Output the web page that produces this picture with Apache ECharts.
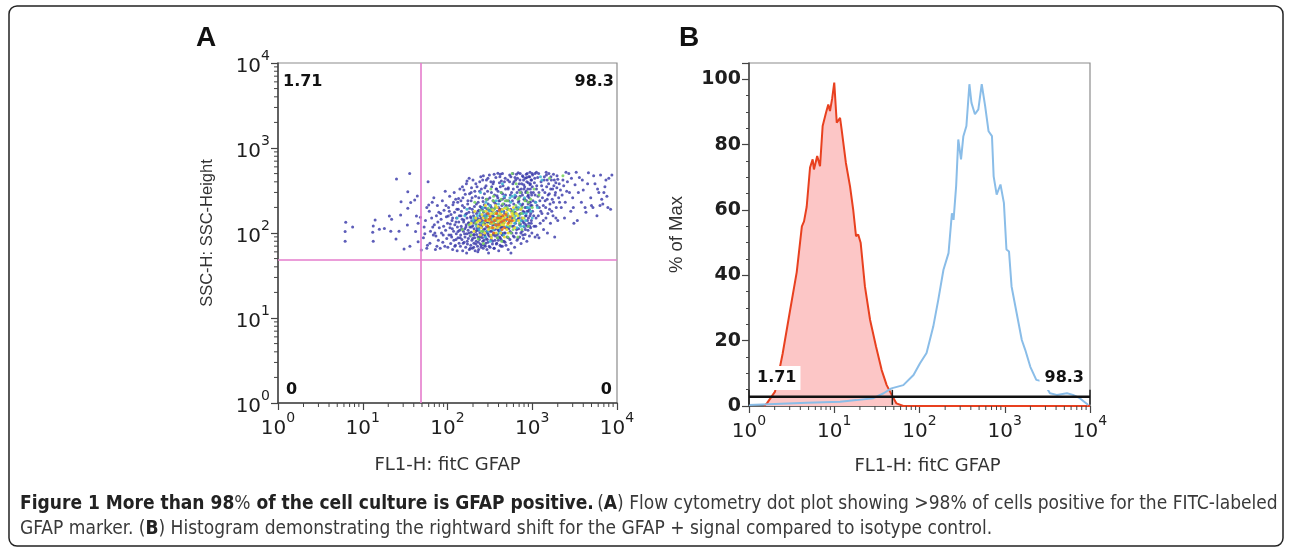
<!DOCTYPE html>
<html><head><meta charset="utf-8">
<script src="https://cdn.jsdelivr.net/npm/echarts@6/dist/echarts.min.js"></script>
<style>html,body{margin:0;padding:0;background:#fff}#c{width:1290px;height:549px}</style>
</head><body><div id="c"></div>
<script>
// ---------- tick definitions ----------
const decadeTicks = [1, 10, 100, 1000, 10000];
const minorTickValues = [2,3,4,5,6,7,8,9,20,30,40,50,60,70,80,90,200,300,400,500,600,700,800,900,2000,3000,4000,5000,6000,7000,8000,9000];
const pctTicks = [0, 20, 40, 60, 80, 100];

// ---------- panel A: quadrant gate and percentages ----------
const quadX = 48;
const quadY = 48;
const quadUL = '1.71', quadUR = '98.3', quadLL = '0', quadLR = '0';

// ---------- panel A: dot plot (FL1-H, SSC-H) by local density ----------
const dotsBlue = [
[6.3,134],[6.2,104],[6.2,80],[7.6,118],[13.3,121],[14,142],[13.1,102],[13.3,80],[15.7,111],[18,113],[20.6,158],[21.9,145],[21.4,105],[25,431],[28.3,233],[28,163],[26.8,105],[24.7,85],[30.7,65],[34,306],[35.8,502],[36.8,229],[36,70],[33.6,124],[34,195],[41,245],[44,272],[43,158],[45,130],[48,153],[59,400],[60,214],[42,104],[45,79],[49,63],[57,66],
[52,88],[55,140],[58,72],[61,180],[63,105],[66,230],[68,95],[70,125],[72,64],[74,160],[76,210],[78,82],[80,115],[53,118],[57,200],[62,76],[65,150],[69,260],[71,100],[75,70],[77,135],[79,175],[54,98],[67,118],[73,92],
[82,66],[84,145],[85,100],[87,240],[88,78],[90,120],[91,185],[93,70],[94,310],[95,108],[97,155],[98,86],[100,130],[101,68],[103,200],[104,95],[106,270],[107,115],[109,75],[110,165],[112,90],[113,140],[115,64],[116,215],[118,105],[119,82],[121,175],[122,125],[124,72],[125,250],[127,98],[128,150],[130,62],[131,118],[133,88],[134,190],[136,135],[137,76],[139,108],[140,330],[83,170],[89,95],[96,210],[102,158],[108,128],[114,112],[120,300],[126,84],[132,230],[138,160],
[142,70],[143,95],[145,120],[146,180],[148,84],[149,145],[151,62],[152,260],[154,105],[155,135],[157,78],[158,200],[160,112],[161,90],[163,165],[164,68],[166,125],[167,380],[169,98],[170,150],[172,74],[173,220],[175,108],[176,86],[178,132],[179,175],[181,64],[182,290],[184,118],[185,92],[187,155],[188,72],[190,240],[191,102],[193,138],[194,82],[196,190],[197,66],[199,122],[200,420],[202,95],[203,160],[205,76],[206,112],[208,205],[209,88],[211,140],[212,62],[214,270],[215,104],[217,128],[218,80],[220,170],[221,96],[223,350],[224,115],[226,70],[227,148],[229,90],[230,230],[232,108],[233,64],[235,185],[236,125],[238,84],[239,310],[241,100],[242,160],[244,74],[245,135],[247,460],[248,92],[250,200],[144,240],[156,320],[168,58],[180,440],[192,340],[204,68],[216,380],[228,60],[240,400],
[252,72],[254,118],[256,150],[258,88],[260,260],[262,104],[264,66],[266,175],[268,130],[270,82],[272,215],[274,96],[276,340],[278,112],[280,70],[282,160],[284,140],[286,86],[288,420],[290,120],[292,64],[294,190],[296,100],[298,250],[300,78],[303,135],[306,165],[309,92],[312,480],[315,115],[318,68],[321,210],[324,145],[327,84],[330,300],[333,105],[336,180],[339,74],[342,125],[345,380],[348,95],[351,155],[354,66],[357,230],[360,110],[363,82],[366,200],[369,140],[372,450],[375,98],[378,170],[381,76],[384,275],[387,120],[390,88],[393,505],[396,150],[399,108],[402,62],[405,240],[408,132],[411,90],[414,190],[417,72],[420,350],[423,115],[426,160],[429,84],[432,410],[435,100],[438,210],[441,136],[444,70],[447,290],[450,94],[265,470],[285,360],[305,58],[325,400],[355,490],[375,330],[395,310],[415,460],[445,500],
[455,120],[460,180],[465,80],[470,260],[475,140],[480,100],[485,330],[490,72],[495,210],[500,160],[507,115],[514,420],[521,88],[528,240],[535,135],[542,480],[549,104],[556,190],[563,76],[570,300],[577,150],[584,120],[591,380],[598,92],[605,220],[612,170],[619,68],[626,450],[633,130],[640,270],[647,100],[654,200],[661,82],[668,350],[675,145],[682,510],[689,112],[696,240],[703,165],[710,90],[717,420],[724,128],[731,190],[738,75],[745,300],[752,150],[759,105],[766,470],[773,220],[780,135],[787,86],[794,370],[801,175],[808,118],[815,250],[822,96],[829,440],[836,160],[843,125],[850,310],[857,200],[864,80],[871,500],[878,140],[885,270],[892,108],[899,390],[906,180],[913,130],[920,230],[927,92],[934,460],[941,160],[948,330],[955,115],[962,210],[969,420],[976,140],[983,280],[990,100],[997,500],[470,400],[520,330],[560,460],[610,400],[650,490],[700,320],[750,380],[800,330],[850,490],[900,280],[950,380],[560,58],[520,64],
[1010,180],[1030,300],[1050,120],[1070,440],[1090,230],[1110,150],[1130,360],[1150,95],[1170,270],[1190,500],[1210,200],[1240,130],[1270,400],[1300,170],[1330,320],[1360,110],[1390,460],[1420,240],[1450,150],[1480,350],[1510,100],[1540,280],[1570,500],[1600,190],[1640,130],[1680,420],[1720,250],[1760,160],[1800,360],[1840,90],[1880,300],[1920,200],[1960,470],[2000,140],[2050,260],[1080,90],[1200,88],[1350,210],[1500,420],[1650,330],[1900,390],[1120,520],[1460,520],[1780,490],[2080,380],
[2200,200],[2300,420],[2400,150],[2550,310],[2700,500],[2850,180],[3000,260],[3200,370],[3400,140],[3600,450],[3800,230],[4000,320],[4300,175],[4600,510],[4900,260],[5200,200],[5500,380],[5800,160],[6100,300],[6400,480],[6800,220],[7200,350],[7600,270],[8000,440],[8400,190],[2500,520],[3300,520],[4200,200],[5000,210],[6600,250],[7000,300],[3100,130]
];
const dotsBlueCore = [
[105,180],[110,95],[115,150],[118,230],[122,70],[126,135],[129,190],[133,104],[135,255],[141,88],[144,160],[147,112],[150,210],[153,76],[156,142],[159,98],[162,285],[165,118],[168,170],[171,80],[174,240],[177,130],[180,100],[183,195],[186,66],[189,150],[192,118],[195,260],[198,86],[201,175],[204,132],[207,96],[210,310],[213,150],[216,74],[219,220],[222,108],[225,140],[228,180],[231,78],[234,260],[237,115],[240,90],[243,205],[246,148],[249,68],[251,330],[253,124],[255,96],[257,190],[259,140],[261,80],[263,235],[267,110],[269,160],[271,72],[273,290],[275,128],[277,92],[279,200],[281,150],[283,76],[287,250],[289,104],[291,170],[293,135],[295,84],[297,310],[299,118],[302,220],[304,96],[307,145],[310,70],[313,185],[316,260],[319,105],[322,130],[326,90],[329,200],[332,350],[335,116],[338,160],[341,80],[344,240],[347,136],[350,98],[353,190],[356,66],[359,280],[362,125],[365,170],[368,92],[371,220],[374,150],[377,74],[380,330],[383,112],[386,180],[389,96],[392,260],[395,130],[398,82],[401,200],[404,150],[407,106],[410,390],[413,120],[416,240],[419,88],[422,175],[425,140],[428,70],[431,300],[434,118],[437,190],[440,96],[443,250],[446,155],[449,80],[452,360],[458,130],[463,220],[468,100],[473,170],[478,78],[483,280],[488,140],[493,115],[498,240],[503,90],[509,190],[515,150],[522,340],[530,112],[537,210],[545,84],[552,280],[560,135],[568,180],[575,100],[583,240],[590,160],[598,330],[606,120],[614,90],[622,260],[630,175],[638,420],[646,140],[654,110],[662,300],[670,190],[678,86],[686,230],[694,150],[702,380],[710,125],[718,270],[726,170],[734,100],[742,330],[750,210],[758,140],[766,280],[774,95],[782,180],[790,420],[798,250],[806,130],[814,350],[822,200],[830,110],[838,300],[846,160],[854,240],[862,400],[870,180],[878,120],[886,330],[894,220],[902,150],[910,460],[918,260],[926,190],[934,120],[942,370],[950,230],[958,170],[966,300],[974,130],[982,420],[990,210],[1000,350],[1020,240],[1040,160],[1060,390],[1080,280],[1100,120],[1120,330],[1140,210],[1160,450],[1180,160],[1200,300],[1230,240],[1260,180],[1290,360],[1320,260],[1350,140],[1380,420],[1410,300],[1440,200],[1470,480],[1500,250],[1530,170],[1560,380],[1590,290],[1620,220],[1660,460],[1700,180],[1740,330],[1780,230],[1820,420],[1860,280],[1900,150],[1950,340],[2000,430],[2100,230],[2150,320],[2250,280],[2350,360],[2450,230],[2600,400],[2750,300],[2900,440],[3050,200],[3500,300],[3900,420],[4500,380],[5300,470],[5900,330],[6300,210],[7400,420],[7800,200],[8700,480],[150,350],[170,410],[190,300],[260,420],[300,440],[350,400],[420,490],[480,440],[540,400],[590,500],[670,440],[720,500],[780,460],[860,450],[940,520],[1010,480],[1080,500]
];
const dotsCyan = [
[130,150],[170,190],[200,140],[220,120],[240,170],[260,200],[280,90],[300,160],[320,80],[340,140],[360,100],[380,125],[400,220],[420,108],[440,180],[460,95],[500,120],[540,150],[580,270],[620,130],[660,115],[700,160],[740,140],[790,120],[850,170],[920,200],[1000,150],[1100,230],[160,160],[225,160],[315,210],[395,160],[475,200],[555,230],[635,160],[715,220],[835,140],[245,300],[445,380],[1300,420],[1250,460],
[205,150],[235,110],[255,130],[275,160],[295,105],[310,180],[335,150],[345,110],[365,125],[385,150],[405,100],[425,180],[455,160],[490,140],[510,170],[530,120],[570,140],[610,190],[650,140],[690,200],[730,120],[780,170],[870,200],[960,180],[285,230],[375,240],[465,270],[545,260],[625,280],[810,260],[1150,200]
];
const dotsGreen = [
[150,110],[190,95],[210,230],[230,85],[250,105],[270,135],[290,250],[310,115],[330,190],[350,270],[370,175],[390,88],[410,150],[430,300],[450,130],[480,240],[520,190],[560,100],[600,170],[640,210],[680,250],[720,300],[760,200],[820,240],[880,300],[960,250],[1050,330],[1200,280],[180,125],[265,75],[355,130],[435,80],[515,90],[595,110],[675,90],[755,110],[900,120],[325,330],[645,380],[580,500],[1600,440],[2300,470],
[215,130],[245,185],[262,105],[288,150],[302,195],[318,130],[342,170],[362,195],[378,140],[402,160],[418,125],[448,220],[468,150],[505,200],[525,160],[548,120],[585,180],[615,150],[660,190],[705,130],[745,170],[800,150],[900,230],[1000,200],[232,140],[268,180],[348,240],[428,250],[512,240],[700,260]
];
const dotsYellow = [
[190,130],[205,105],[215,150],[230,120],[245,95],[255,165],[265,125],[275,100],[285,180],[295,140],[305,110],[315,160],[325,95],[335,130],[345,185],[355,115],[365,150],[375,100],[385,200],[395,135],[405,120],[415,170],[425,100],[435,145],[445,190],[460,125],[480,160],[500,110],[520,145],[540,185],[560,130],[590,160],[620,115],[650,170],[690,140],[730,190],[770,150],[210,180],[280,210],[370,210],[470,90],[330,88],[240,140],[600,200],[520,100],
[225,135],[262,150],[290,125],[310,140],[328,170],[348,145],[368,170],[388,115],[412,140],[432,165],[452,150],[475,135],[495,175],[515,125],[545,150],[575,170],[610,140],[680,160],[250,115],[330,115],[440,125],[480,195]
];
const dotsRed = [
[280,140],[300,120],[320,155],[340,115],[360,140],[380,170],[400,125],[420,150],[440,110],[460,140],[490,165],[520,130],[550,155],[350,100],[410,185],[300,170],[470,115],[580,140],
[330,135],[390,150],[430,135],[500,145],[370,125],[450,160],[540,140],[310,145]
];

// ---------- panel B: histograms (FL1-H, % of Max) ----------
const isotypeHist = [
[1.5,0],[1.62,0.8],[2.02,4.4],[2.48,16],[3.02,29],[3.63,41],[4.17,55],[4.42,56.5],[4.75,61],[5.2,73],[5.58,75.5],[5.78,72.4],[6.31,76.5],[6.81,73.4],[7.31,85.7],[8.0,89.8],[8.51,92.3],[8.91,90.3],[9.44,94],[10.0,99],[10.7,86.7],[11.7,88.2],[12.2,84.7],[13.7,74.4],[15.3,67.3],[16.7,60],[18.0,52],[19.1,52.5],[20.4,50],[22.9,36.6],[26.3,26.4],[30.9,18.2],[36.0,11],[41.2,6.4],[47.2,3.4],[53.7,0.8],[64.6,0],[10000,0]
];
const gfapHist = [
[1,0.3],[4.79,1.0],[11.7,1.3],[18.2,1.8],[28.8,2.4],[38.0,3.9],[46.8,5.4],[64.6,6.4],[85.1,9.5],[101,13],[121,16.2],[145,24.3],[166,32.5],[191,41.7],[219,46.8],[240,59],[251,57],[269,67.3],[285,81.6],[307,75.5],[327,82.6],[355,85.7],[385,98.5],[407,92.8],[447,89.3],[490,90.8],[537,98.5],[589,91.8],[646,84.1],[708,82.6],[741,70.3],[804,64.7],[891,67.8],[977,62.2],[1047,47.9],[1122,47.3],[1202,36.6],[1380,28.4],[1585,20.2],[1738,17.2],[1995,12],[2344,8],[2818,7.5],[3388,3.9],[4074,3.4],[5370,3.9],[6310,3.4],[7586,2.4],[9550,0.3]
];
const markerLevel = 2.8;
const markerSplit = 48;
const markerLeftLabel = '1.71', markerRightLabel = '98.3';

// ---------- text ----------
const xName = 'FL1-H: fitC GFAP';
const yNameA = 'SSC-H: SSC-Height';
const yNameB = '% of Max';

// ---------- helpers ----------
const ARIAL = "'Liberation Sans', Arial, sans-serif";
const WIDE = "'DejaVu Sans', sans-serif";
const supRich = {
  b: { fontSize: 20, fontFamily: WIDE, color: '#1e1e1e', padding: [8, 0, 0, 0], verticalAlign: 'bottom' },
  s: { fontSize: 14, fontFamily: WIDE, color: '#1e1e1e', verticalAlign: 'top' }
};
function powLabel(v) { return '{b|10}{s|' + Math.round(Math.log10(v)) + '}'; }

function xTickSeries(xi, yi, base, len) {
  return {
    type: 'custom', xAxisIndex: xi, yAxisIndex: yi, clip: false, silent: true, z: 5,
    data: minorTickValues.map(v => [v, base]),
    renderItem: (p, api) => {
      const c = api.coord([api.value(0), api.value(1)]);
      return { type: 'line', shape: { x1: c[0], y1: c[1], x2: c[0], y2: c[1] + len }, style: { stroke: '#444', lineWidth: 1 } };
    }
  };
}
function yTickSeries(xi, yi, base, len) {
  return {
    type: 'custom', xAxisIndex: xi, yAxisIndex: yi, clip: false, silent: true, z: 5,
    data: minorTickValues.map(v => [base, v]),
    renderItem: (p, api) => {
      const c = api.coord([api.value(0), api.value(1)]);
      return { type: 'line', shape: { x1: c[0] - len, y1: c[1], x2: c[0], y2: c[1] }, style: { stroke: '#444', lineWidth: 1 } };
    }
  };
}
function dotSeries(data, color, op) {
  return { type: 'scatter', xAxisIndex: 0, yAxisIndex: 0, data: data, symbolSize: 3, itemStyle: { color: color, opacity: op }, silent: true };
}

const logAxisCommon = {
  type: 'log', logBase: 10, min: 1, max: 10000, splitNumber: 4,
  axisLine: { show: true, lineStyle: { color: '#444', width: 1.5 } },
  axisTick: { show: true, inside: false, length: 7, lineStyle: { color: '#444', width: 1.2 } },
  splitLine: { show: false },
  axisLabel: { formatter: powLabel, rich: supRich, fontSize: 20, fontFamily: WIDE, color: '#1e1e1e', margin: 8 }
};

const chart = echarts.init(document.getElementById('c'), null, { renderer: 'canvas' });
const option = {
  animation: false,
  backgroundColor: '#fff',
  grid: [
    { left: 278, top: 63, width: 339, height: 340, show: true, borderColor: '#8c8c8c', borderWidth: 1.2, backgroundColor: 'transparent' },
    { left: 749, top: 63, width: 341, height: 343, show: true, borderColor: '#8c8c8c', borderWidth: 1.2, backgroundColor: 'transparent' }
  ],
  xAxis: [
    Object.assign({}, logAxisCommon, { gridIndex: 0, name: xName, nameLocation: 'middle', nameGap: 53,
      nameTextStyle: { fontSize: 18, fontFamily: WIDE, color: '#333', verticalAlign: 'top' } }),
    Object.assign({}, logAxisCommon, { gridIndex: 1, name: xName, nameLocation: 'middle', nameGap: 51,
      nameTextStyle: { fontSize: 18, fontFamily: WIDE, color: '#333', verticalAlign: 'top', padding: [0, 0, 0, 16] } })
  ],
  yAxis: [
    Object.assign({}, logAxisCommon, { gridIndex: 0, name: yNameA, nameLocation: 'middle', nameGap: 62,
      nameTextStyle: { fontSize: 16.5, fontFamily: ARIAL, color: '#333' } }),
    { type: 'value', gridIndex: 1, min: 0, max: 105, interval: 20, name: yNameB, nameLocation: 'middle', nameGap: 63,
      nameTextStyle: { fontSize: 18.5, fontFamily: ARIAL, color: '#333' },
      axisLine: { show: true, lineStyle: { color: '#444', width: 1.5 } },
      axisTick: { show: true, inside: false, length: 7, lineStyle: { color: '#444', width: 1.2 } },
      minorTick: { show: true, splitNumber: 4, length: 3, lineStyle: { color: '#444', width: 1 } },
      splitLine: { show: false },
      axisLabel: { showMaxLabel: false, fontSize: 19, fontWeight: 'bold', fontFamily: WIDE, color: '#1e1e1e', margin: 8 } }
  ],
  series: [
    Object.assign(dotSeries(dotsBlue, '#3434a8', 0.8), {
      markLine: { silent: true, symbol: 'none', label: { show: false }, animation: false,
        lineStyle: { color: '#e57ccc', width: 1.6, type: 'solid' },
        data: [{ xAxis: quadX }, { yAxis: quadY }] }
    }),
    dotSeries(dotsBlueCore, '#3434a8', 0.8),
    dotSeries(dotsCyan, '#36b4cc', 0.85),
    dotSeries(dotsGreen, '#74d25a', 0.85),
    dotSeries(dotsYellow, '#ece030', 0.92),
    dotSeries(dotsRed, '#ec6a1e', 0.92),
    xTickSeries(0, 0, 1, 4),
    yTickSeries(0, 0, 1, 4),
    xTickSeries(1, 1, 0, 4),
    { type: 'line', xAxisIndex: 1, yAxisIndex: 1, data: isotypeHist, symbol: 'none', z: 3,
      lineStyle: { color: '#e8401f', width: 2 }, areaStyle: { color: '#fcc6c6', opacity: 1 } },
    { type: 'line', xAxisIndex: 1, yAxisIndex: 1, data: gfapHist, symbol: 'none', z: 4,
      lineStyle: { color: '#8abde8', width: 2 } },
    { type: 'line', xAxisIndex: 1, yAxisIndex: 1, data: [[1, markerLevel], [10000, markerLevel]], symbol: 'none', z: 6,
      lineStyle: { color: '#111', width: 2.5 } },
    { type: 'custom', xAxisIndex: 1, yAxisIndex: 1, clip: false, silent: true, z: 6,
      data: [[1, markerLevel], [markerSplit, markerLevel], [10000, markerLevel]],
      renderItem: (p, api) => {
        const c = api.coord([api.value(0), api.value(1)]);
        return { type: 'line', shape: { x1: c[0], y1: c[1] - 7, x2: c[0], y2: c[1] + 8 }, style: { stroke: '#222', lineWidth: 1.5 } };
      } }
  ],
  graphic: [
    { type: 'rect', shape: { x: 9, y: 6, width: 1274, height: 540, r: 8 }, style: { fill: 'none', stroke: '#222', lineWidth: 1.5 }, z: 0 },
    { type: 'text', left: 196, top: 24, style: { text: 'A', font: "bold 28px 'Liberation Sans', Arial, sans-serif", fill: '#111' } },
    { type: 'text', left: 679, top: 24, style: { text: 'B', font: "bold 28px 'Liberation Sans', Arial, sans-serif", fill: '#111' } },
    { type: 'text', left: 283, top: 74, z: 10, style: { text: quadUL, font: "bold 16px 'DejaVu Sans', sans-serif", fill: '#111' } },
    { type: 'text', right: 676, top: 74, z: 10, style: { text: quadUR, font: "bold 16px 'DejaVu Sans', sans-serif", fill: '#111' } },
    { type: 'text', left: 286, top: 382, z: 10, style: { text: quadLL, font: "bold 16px 'DejaVu Sans', sans-serif", fill: '#111' } },
    { type: 'text', right: 678, top: 382, z: 10, style: { text: quadLR, font: "bold 16px 'DejaVu Sans', sans-serif", fill: '#111' } },
    { type: 'text', left: 752, top: 366, z: 10, style: { text: markerLeftLabel, font: "bold 16px 'DejaVu Sans', sans-serif", fill: '#111', backgroundColor: '#fff', padding: [4, 4, 4, 5] } },
    { type: 'text', right: 203, top: 366, z: 10, style: { text: markerRightLabel, font: "bold 16px 'DejaVu Sans', sans-serif", fill: '#111', backgroundColor: '#fff', padding: [4, 3, 4, 5] } },
    { type: 'text', left: 20, top: 495, z: 10, style: {
      text: '{b|Figure 1 More than 98}{r|%}{b| of the cell culture is GFAP positive.} {r|(}{b|A}{r|) Flow cytometry dot plot showing >98% of cells positive for the FITC-labeled}\n{r|GFAP marker. (}{b|B}{r|) Histogram demonstrating the rightward shift for the GFAP + signal compared to isotype control.}',
      rich: {
        b: { fontFamily: "'DejaVu Sans Condensed', sans-serif", fontWeight: 'bold', fontSize: 19, fill: '#222', lineHeight: 25 },
        r: { fontFamily: "'DejaVu Sans Condensed', sans-serif", fontSize: 19, fill: '#3a3a3a', lineHeight: 25 }
      } } }
  ]
};
chart.setOption(option);
</script>
</body></html>
